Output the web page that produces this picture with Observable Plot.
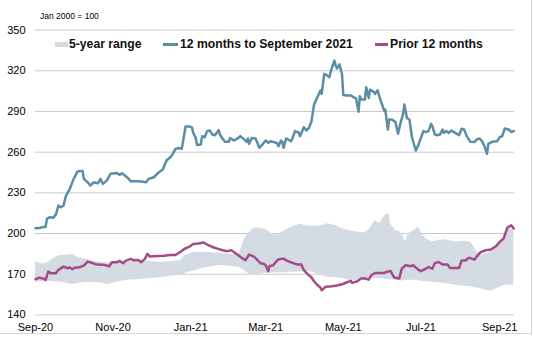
<!DOCTYPE html>
<html>
<head>
<meta charset="utf-8">
<script src="https://cdn.jsdelivr.net/npm/d3@7"></script>
<script src="https://cdn.jsdelivr.net/npm/@observablehq/plot@0.6"></script>
<style>
  html, body { margin: 0; padding: 0; background: #fff; }
  #wrap { position: relative; width: 533px; height: 337px; font-family: "Liberation Sans", Arial, sans-serif; }
  #chart { position: absolute; left: 0; top: 0; }
  .frame { position: absolute; left: 0; top: 0; width: 531px; height: 333px; border-right: 1px solid #d4d4d4; border-bottom: 1px solid #d4d4d4; pointer-events: none; }
  .note { position: absolute; left: 40px; top: 11px; font-size: 8.5px; color: #000; white-space: nowrap; }
  .leg { position: absolute; top: 36px; font-size: 12.2px; font-weight: bold; color: #111; white-space: nowrap; line-height: 16px; }
  .sw { position: absolute; }
</style>
</head>
<body>
<div id="wrap">
  <div id="chart"></div>
  <div class="note">Jan 2000 = 100</div>
  <div class="sw" style="left:55px;top:42px;width:13px;height:5px;background:#d5dbe3"></div>
  <div class="leg" style="left:69px">5-year range</div>
  <div class="sw" style="left:163px;top:43px;width:15px;height:2.5px;background:#5b8ea6"></div>
  <div class="leg" style="left:180px">12 months to September 2021</div>
  <div class="sw" style="left:375px;top:43px;width:13px;height:2.5px;background:#a34c88"></div>
  <div class="leg" style="left:390px">Prior 12 months</div>
  <div class="frame"></div>
</div>
<script>
// Day offsets are counted from 1 Sep 2020
const startDate = "2020-09-01";
const endDay = 376.6;

const yTicks = [140, 170, 200, 230, 260, 290, 320, 350];
const xTickDates = ["2020-09-01", "2020-11-01", "2021-01-01", "2021-03-01", "2021-05-01", "2021-07-01", "2021-09-01"];

// 12 months to September 2021
const currentDays = [0,3,5,8,9,11,14,16,18,20,22,24,27,30,33,37,38,41,43,46,49,51,53,56,59,64,66,68,72,75,80,83,87,89,93,97,100,103,106,108,110,113,115,118,121,123,124,126,127,130,131,133,135,137,139,141,144,145,147,149,152,153,156,159,161,164,166,167,168,170,173,176,178,181,183,185,187,190,191,193,194,195,197,201,202,204,207,208,211,213,215,217,219,222,224,225,227,229,231,233,235,236,237,239,241,242,245,248,250,252,254,255,256,259,260,262,263,266,267,269,271,273,274,275,277,278,280,283,285,287,289,290,292,294,296,299,301,305,307,309,311,312,314,316,318,320,321,323,325,327,330,333,335,337,339,342,345,347,349,351,353,355,356,359,363,365,367,369,372,374,376];
const currentVals = [203.9,204,204.6,205,210.8,212,211.6,214,220.6,219.4,220.6,228,233,240.3,245.7,246.2,240.3,237.8,235.4,237.8,237,240.3,236.6,239,244,244.7,243.3,244.4,241.5,238.5,238.5,238.3,237.8,240.3,241.5,245.2,247,253.8,256.2,258.7,262.4,263.1,262.4,278.9,278.9,278.3,274.2,270.5,265.2,265.7,271.8,271,275.5,276,273,272.5,276.2,273,270.1,267.6,267.6,270.5,268.6,270.1,271.8,269.4,267.6,270.1,266.1,270.5,270.1,263.2,265.2,268.6,266.9,268.1,267.6,266.6,264.4,268.6,267.6,263.2,270.1,268.1,270.1,275.5,274.3,271.8,278.4,276,277.9,282.8,295.2,301.3,305.5,303,317.7,316.8,315.3,322.1,327.5,324,321.7,324.7,317.4,302.1,301.8,301.8,300.6,299.6,289.8,301.3,298.8,298.8,307.9,300,306.1,304.4,302.9,305.6,298.8,293.9,290.7,291.4,276.7,284.1,284.1,282.3,273.5,281.6,288.2,295.1,285.3,284.1,271,261.2,265.2,275.5,274.7,275.5,280.9,279.2,273,272.5,273,276.7,274.2,275.5,274.2,276,274.2,272.5,277.2,276.7,271.8,267.6,267.4,269.4,270.1,268.1,264.4,258.7,266.1,267.6,268.1,271,271.8,277.5,276.7,274.9,275.5];

// Prior 12 months
const priorDays = [0,3,7,8,10,12,16,18,22,25,27,29,31,34,38,41,43,47,51,54,58,60,64,66,69,71,75,77,81,83,86,88,90,96,101,106,110,113,117,121,124,128,132,135,139,143,147,151,154,157,161,165,168,172,174,177,179,181,183,184,187,189,191,195,198,202,206,209,211,214,217,219,221,224,225,228,233,237,241,245,248,249,253,256,259,262,264,267,274,276,279,282,286,288,291,295,297,300,303,307,309,312,314,317,320,324,326,333,335,338,341,345,347,350,354,358,362,365,368,371,374,376];
const priorVals = [166.3,167.5,166.5,165.8,172,170.7,170.7,173.2,175.6,174.4,174.9,173.7,174.9,174.9,176.4,179.3,178.8,177.4,176.9,176.9,175.9,178.8,178.8,179.8,178.1,180,181.3,180.3,180.5,178.8,181.3,185,183,183.5,183.7,184.2,184.2,185.9,188.6,190.3,192.3,192.6,193.4,191.9,190.1,188.9,187.7,187,187.7,185.7,182.8,180.3,184.5,182.8,181,177.9,177.9,176.6,172.2,176.1,176.6,179.1,181,181.5,179.8,178.4,177.2,177.2,173,170,167.6,164.8,162.6,160.2,158.2,160.7,161.2,161.7,162.6,164.1,165.1,163.6,164.8,166.8,166.8,166,169.2,170.9,170.9,171.7,172.4,167.6,166.8,174.1,176.6,175.9,176.6,174.1,172.2,174.1,175.3,174.1,178.2,179,177.2,177.2,174.5,174.5,180.2,180.2,182.2,180.7,183.1,186.3,187.7,188.2,190.6,193.8,196.3,204.4,206.1,203.7];

// 5-year range
const rangeDays = [0,6,10,14,20,25,29,34,39,45,51,57,64,72,80,88,96,106,114,118,124,130,138,145,153,160,164,167,171,175,181,186,191,194,199,204,208,215,222,230,236,241,246,252,259,263,267,270,273,275,278,279,283,287,291,293,297,301,304,307,312,317,322,330,338,342,344,347,351,356,359,364,369,373,376];
const rangeLow = [164.3,164.4,164.8,164.4,164.0,163.1,162.3,163.3,163.8,163.8,163.7,162.3,164.3,165.5,166.0,166.6,167.2,168.5,169.2,170.7,172.1,174.0,175.5,176.6,175.8,175.1,172.9,170.7,169.2,169.9,170.7,170.9,171.0,171.0,171.4,171.4,171.6,172.1,169.9,167.7,167.4,167.0,165.5,165.5,166.2,166.6,166.8,166.8,166.6,166.2,166.0,165.9,165.5,165.0,165.1,165.5,165.5,165.1,164.8,164.6,164.0,163.7,163.1,161.8,161.1,160.7,160.4,160.1,158.9,157.8,157.6,160.1,161.8,161.8,161.8];
const rangeHigh = [179.0,177.3,178.6,181.5,183.9,183.9,184.5,181.9,181.5,179.5,179.0,178.0,179.5,179.5,179.1,179.5,178.8,179.0,180.3,183.9,186.1,186.1,185.8,185.4,184.7,184.7,195.0,199.9,203.6,204.3,202.9,199.9,198.7,201.1,203.6,206.0,206.8,205.3,205.3,207.3,206.0,203.6,202.4,201.1,200.4,203.6,209.7,207.3,211.0,213.4,214.7,207.3,202.4,201.1,193.7,199.9,201.8,204.8,199.9,196.2,193.7,195.0,195.5,193.7,194.5,193.7,191.3,186.4,183.9,185.4,187.6,191.3,198.7,203.8,202.4];

const colors = { current: "#5b8ea6", prior: "#a34c88", range: "#d5dbe3", grid: "#c9c9c9" };

const t0 = new Date(startDate + "T00:00:00Z");
const toDate = d => new Date(t0.getTime() + d * 864e5);

const current = currentDays.map((d, i) => ({ date: toDate(d), value: currentVals[i] }));
const prior = priorDays.map((d, i) => ({ date: toDate(d), value: priorVals[i] }));
const range = rangeDays.map((d, i) => ({ date: toDate(d), lo: rangeLow[i], hi: rangeHigh[i] }));

const chart = Plot.plot({
  width: 533,
  height: 337,
  marginLeft: 35,
  marginRight: 19,
  marginTop: 29.6,
  marginBottom: 22.6,
  style: { fontFamily: "'Liberation Sans', Arial, sans-serif", fontSize: "11px", color: "#000", background: "transparent" },
  x: {
    type: "utc",
    domain: [t0, toDate(endDay)],
    ticks: xTickDates.map(s => new Date(s + "T00:00:00Z")),
    tickFormat: d3.utcFormat("%b-%y"),
    tickSize: 0,
    tickPadding: 8,
    label: null
  },
  y: {
    domain: [140, 350],
    ticks: yTicks,
    tickSize: 0,
    tickPadding: 10,
    label: null
  },
  marks: [
    Plot.gridY(yTicks, { stroke: colors.grid, strokeOpacity: 1, strokeWidth: 1 }),
    Plot.areaY(range, { x: "date", y1: "lo", y2: "hi", fill: colors.range }),
    Plot.lineY(prior, { x: "date", y: "value", stroke: colors.prior, strokeWidth: 2.5 }),
    Plot.lineY(current, { x: "date", y: "value", stroke: colors.current, strokeWidth: 2.5 })
  ]
});
document.getElementById("chart").appendChild(chart);
</script>
</body>
</html>
